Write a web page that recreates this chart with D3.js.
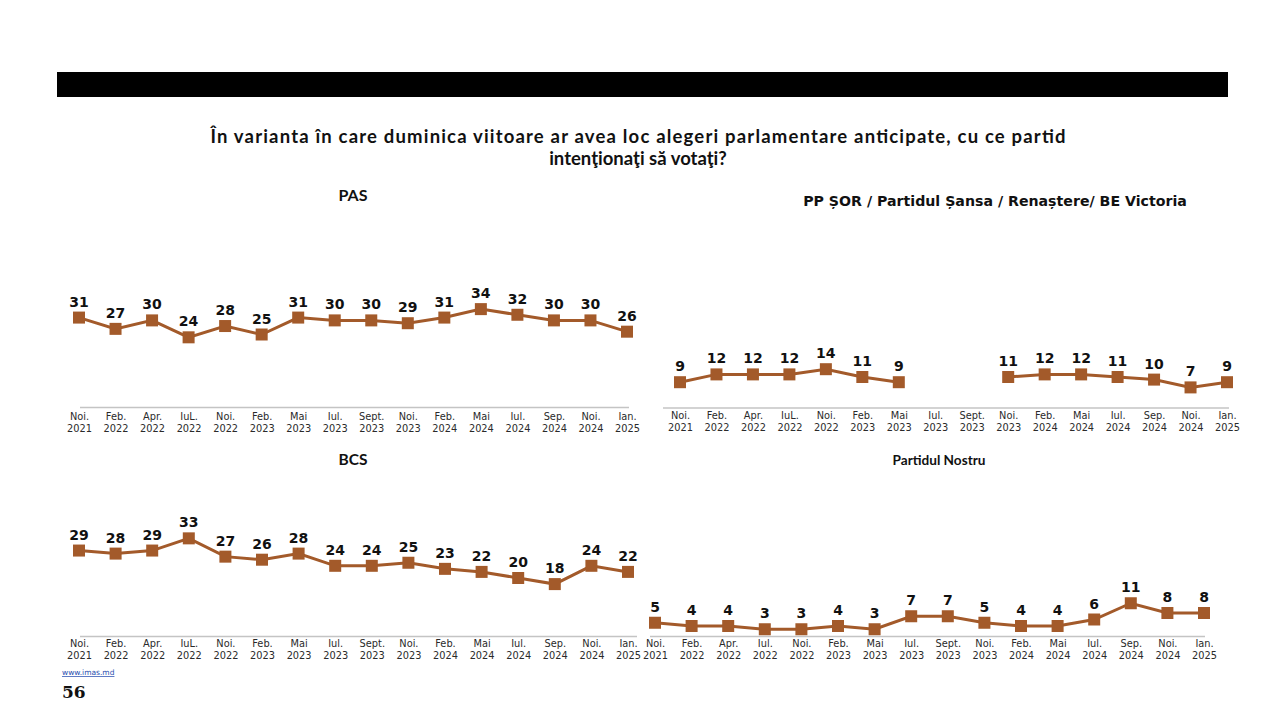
<!DOCTYPE html>
<html>
<head>
<meta charset="utf-8">
<script src="https://cdn.jsdelivr.net/npm/d3@7"></script>
<style>
html,body{margin:0;padding:0;background:#fff;}
svg{display:block;}
</style>
</head>
<body>
<svg id="chart" width="1280" height="720"></svg>
<script>
// ---------- DATA ----------
const months = ["Noi.","Feb.","Apr.","IuL.","Noi.","Feb.","Mai","Iul.","Sept.","Noi.","Feb.","Mai","Iul.","Sep.","Noi.","Ian."];
const monthsNostru = ["Noi.","Feb.","Apr.","Iul.","Noi.","Feb.","Mai","Iul.","Sept.","Noi.","Feb.","Mai","Iul.","Sep.","Noi.","Ian."];
const years = ["2021","2022","2022","2022","2022","2023","2023","2023","2023","2023","2024","2024","2024","2024","2024","2025"];
const categories = months.map((m,i)=>m+" "+years[i]);
const pasValues    = [31,27,30,24,28,25,31,30,30,29,31,34,32,30,30,26];
const sorValues    = [9,12,12,12,14,11,9,null,null,11,12,12,11,10,7,9];
const bcsValues    = [29,28,29,33,27,26,28,24,24,25,23,22,20,18,24,22];
const nostruValues = [5,4,4,3,3,4,3,7,7,5,4,4,6,11,8,8];

const titleLines = ["În varianta în care duminica viitoare ar avea loc alegeri parlamentare anticipate, cu ce partid","intenţionaţi să votaţi?"];

// ---------- LAYOUT ----------
const svg = d3.select("#chart");
const brown = "#A35A2A";

svg.append("rect").attr("x",57).attr("y",72).attr("width",1171).attr("height",25).attr("fill","#000");

function fitText(t, w){
  const cur = t.node().getComputedTextLength();
  const fs = parseFloat(t.attr("font-size"));
  t.attr("font-size", (fs*w/cur).toFixed(2));
}

const tl1 = svg.append("text").attr("x",638).attr("y",143).attr("text-anchor","middle")
  .attr("font-family","Lato").attr("font-weight","bold").attr("font-size",18.5).attr("fill","#111").text(titleLines[0]);
tl1.attr("textLength",855).attr("lengthAdjust","spacing");
const tl2 = svg.append("text").attr("x",638).attr("y",165).attr("text-anchor","middle")
  .attr("font-family","Lato").attr("font-weight","bold").attr("font-size",18.5).attr("fill","#111").text(titleLines[1]);

const charts = [
  {name:"PAS", values:pasValues, months:months, x0:79, x1:627, zeroY:405, pxPerUnit:2.82, axisY:407.5, axisX0:80, axisX1:629,
   lab1:12, lab2:24, title:{x:353,y:201,w:29,font:"Lato"}},
  {name:"PP ȘOR / Partidul Șansa / Renaștere/ BE Victoria", values:sorValues, months:months, x0:680, x1:1227, zeroY:405.6, pxPerUnit:2.6, axisY:408, axisX0:663, axisX1:1229,
   lab1:11, lab2:23, title:{x:995,y:206,w:384,font:"DejaVu Sans"}},
  {name:"BCS", values:bcsValues, months:months, x0:79, x1:628, zeroY:639, pxPerUnit:3.05, axisY:636.5, axisX0:80, axisX1:637,
   lab1:10.5, lab2:22.5, title:{x:353,y:465,w:29,font:"Lato"}},
  {name:"Partidul Nostru", values:nostruValues, months:monthsNostru, x0:655, x1:1204, zeroY:639, pxPerUnit:3.25, axisY:636.5, axisX0:650, axisX1:1205,
   lab1:10, lab2:22.5, title:{x:939,y:465,w:93,font:"Lato"}}
];

charts.forEach(c=>{
  const g = svg.append("g");
  const x = d3.scalePoint().domain(categories).range([c.x0,c.x1]);
  const y = d3.scaleLinear().domain([0,40]).range([c.zeroY, c.zeroY-40*c.pxPerUnit]);

  // title
  const t = g.append("text").attr("x",c.title.x).attr("y",c.title.y).attr("text-anchor","middle")
    .attr("font-family",c.title.font).attr("font-weight","bold").attr("font-size",14).attr("fill","#111").text(c.name);
  fitText(t,c.title.w);

  // axis
  const axis = d3.axisBottom(x).tickSize(0).tickFormat(()=>"");
  const ag = g.append("g").attr("transform",`translate(0,${c.axisY})`).call(axis);
  ag.select(".domain").remove();
  g.append("line").attr("x1",c.axisX0).attr("x2",c.axisX1).attr("y1",c.axisY).attr("y2",c.axisY)
    .attr("stroke","#c4c4c4").attr("stroke-width",1.5);
  ag.selectAll(".tick text").remove();
  ag.selectAll(".tick").each(function(d,i){
    const tt = d3.select(this).append("text").attr("text-anchor","middle")
      .attr("font-family","DejaVu Sans").attr("font-size",9.8).attr("fill","#2a2a2a");
    tt.append("tspan").attr("x",0).attr("y",c.lab1).text(c.months[i]);
    tt.append("tspan").attr("x",0).attr("y",c.lab2).text(years[i]);
  });

  const data = c.values.map((v,i)=>({cat:categories[i], v}));
  const line = d3.line().defined(d=>d.v!==null).x(d=>x(d.cat)).y(d=>y(d.v));
  g.append("path").datum(data).attr("d",line).attr("fill","none").attr("stroke",brown).attr("stroke-width",3);

  const pts = data.filter(d=>d.v!==null);
  g.selectAll("rect.m").data(pts).join("rect").attr("class","m")
    .attr("x",d=>x(d.cat)-6).attr("y",d=>y(d.v)-6).attr("width",12).attr("height",12).attr("fill",brown);
  g.selectAll("text.v").data(pts).join("text").attr("class","v")
    .attr("x",d=>x(d.cat)).attr("y",d=>y(d.v)-11).attr("text-anchor","middle")
    .attr("font-family","DejaVu Sans").attr("font-weight","bold").attr("font-size",14).attr("fill","#111")
    .text(d=>d.v);
});

// footer
svg.append("text").attr("x",62).attr("y",675).attr("font-family","DejaVu Sans").attr("font-size",7.5)
  .attr("fill","#2a4fb0").attr("text-decoration","underline").text("www.imas.md");
svg.append("text").attr("x",62).attr("y",698).attr("font-family","DejaVu Serif").attr("font-weight","bold")
  .attr("font-size",17).attr("fill","#111").text("56");
</script>
</body>
</html>
